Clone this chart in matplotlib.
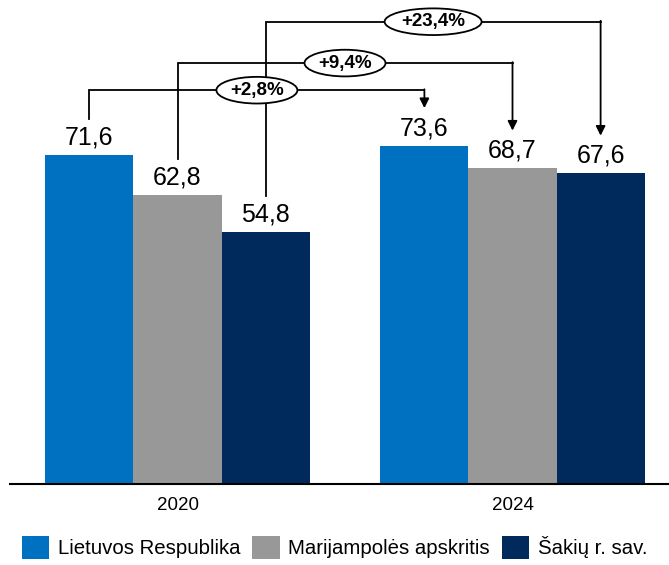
import matplotlib.pyplot as plt
from matplotlib.patches import Ellipse
import numpy as np

plt.rcParams['font.family'] = ['Liberation Sans', 'DejaVu Sans']

YEARS = ['2020', '2024']
SERIES = ['Lietuvos Respublika', 'Marijampolės apskritis', 'Šakių r. sav.']
VALUES_2020 = [71.6, 62.8, 54.8]
VALUES_2024 = [73.6, 68.7, 67.6]
COLORS = ['#0070C0', '#989898', '#002A5C']

# height of the connector line for each series, in data units
LINE_LEVELS = [85.7, 91.6, 100.6]


def fmt(v):
    return f'{v:.1f}'.replace('.', ',')


fig = plt.figure(figsize=(6.69, 5.65), dpi=100)
ax = fig.add_axes([10 / 669, 81 / 565, 670 / 669, 482.5 / 565])

width = 0.263
x = np.arange(len(YEARS))
offsets = [-width, 0, width]

for i, name in enumerate(SERIES):
    vals = [VALUES_2020[i], VALUES_2024[i]]
    bars = ax.bar(x + offsets[i], vals, width, color=COLORS[i], label=name, zorder=2)
    for b, v in zip(bars, vals):
        ax.text(b.get_x() + b.get_width() / 2, v + 1.2, fmt(v),
                ha='center', va='bottom', fontsize=18)

# change connectors
for i in range(len(SERIES)):
    x1 = x[0] + offsets[i]
    x2 = x[1] + offsets[i]
    v1 = VALUES_2020[i]
    v2 = VALUES_2024[i]
    yl = LINE_LEVELS[i]
    ax.plot([x1, x1, x2], [v1 + 7.9, yl, yl], color='black', lw=1.3,
            clip_on=False, zorder=3 + i * 0.1, solid_joinstyle='miter')
    ax.annotate('', xy=(x2, v2 + 8.2), xytext=(x2, yl + 0.2),
                arrowprops=dict(arrowstyle='-|>', color='black', lw=1.3,
                                shrinkA=0, shrinkB=0, mutation_scale=14),
                annotation_clip=False, zorder=3)
    pct = (v2 / v1 - 1) * 100
    xm = (x1 + x2) / 2
    ew = (81 if i < 2 else 97) / 335
    ax.add_patch(Ellipse((xm, yl), ew, 5.8, facecolor='white', edgecolor='black',
                         lw=1.3, clip_on=False, zorder=4 + i))
    ax.text(xm, yl, '+' + fmt(pct) + '%', ha='center', va='center',
            fontsize=13.5, fontweight='bold', zorder=4.5 + i)

ax.set_xlim(-0.5, 1.5)
ax.set_ylim(0, 105)
ax.set_xticks(x)
ax.set_xticklabels(YEARS, fontsize=13.5)
ax.tick_params(axis='x', length=0, pad=9)
ax.set_yticks([])
for s in ['left', 'right', 'top']:
    ax.spines[s].set_visible(False)
ax.spines['bottom'].set_linewidth(1.5)

fig.legend(loc='lower center', bbox_to_anchor=(0.5, -0.022), ncol=3, frameon=False,
           fontsize=14.7, handlelength=1.35, handleheight=1.35, columnspacing=0.6,
           handletextpad=0.4)

fig.savefig('out.png', dpi=100)
